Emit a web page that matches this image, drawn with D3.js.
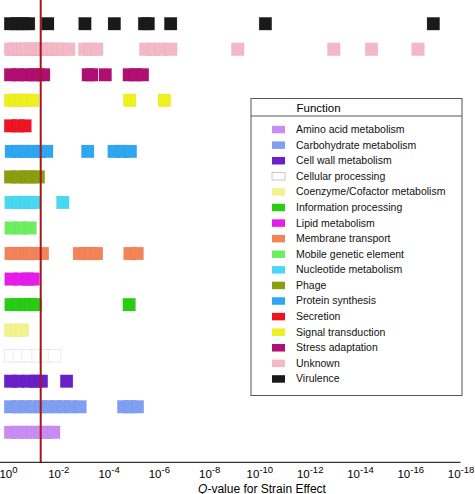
<!DOCTYPE html>
<html><head><meta charset="utf-8">
<script src="https://cdn.jsdelivr.net/npm/d3@7"></script>
<style>
body{margin:0;background:#fff}
svg{display:block;font-family:Arial,"Liberation Sans",sans-serif}
</style>
</head><body>
<svg id="chart" width="475" height="494"></svg>
<script>
// Functional categories (legend order, alphabetical)
const categories = [
  "Amino acid metabolism","Carbohydrate metabolism","Cell wall metabolism","Cellular processing",
  "Coenzyme/Cofactor metabolism","Information processing","Lipid metabolism","Membrane transport",
  "Mobile genetic element","Nucleotide metabolism","Phage","Protein synthesis","Secretion",
  "Signal transduction","Stress adaptation","Unknown","Virulence"
];
const categoryColors = [
  "#c98cf2","#7f9ff2","#6a20c9","#ffffff",
  "#f3f38e","#28cc14","#e41de8","#f2845a",
  "#6cef5e","#48d8f2","#8a9e10","#2fa6f2","#ee1522",
  "#eef020","#b00e72","#f4b8c6","#1a1a1a"
];

// -log10(Q-value) for each gene, per category
const aminoAcid     = [0.1,0.4,0.7,1.0,1.3,1.55,1.82];
const carbohydrate  = [0.1,0.4,0.7,1.0,1.3,1.6,1.9,2.2,2.5,2.87,4.6,4.85,5.15];
const cellWall      = [0.1,0.4,0.8,1.1,1.33,2.33];
const cellular      = [0.1,0.45,0.8,1.2,1.5,1.85];
const coenzyme      = [0.1,0.35,0.57];
const information   = [0.12,0.4,0.7,0.9,1.09,4.82];
const lipid         = [0.12,0.5,0.8,1.0];
const membrane      = [0.12,0.25,0.5,0.75,0.85,1.0,1.37,2.84,3.1,3.3,3.52,4.85,5.14];
const mobile        = [0.12,0.5,0.88];
const nucleotide    = [0.12,0.4,0.7,0.9,1.04,2.18];
const phage         = [0.1,0.4,0.7,0.92,1.21];
const protein       = [0.13,0.4,0.7,1.0,1.25,1.54,3.17,4.22,4.55,4.87];
const secretion     = [0.1,0.4,0.68];
const signal        = [0.1,0.3,0.5,0.7,0.98,4.84,6.22];
const stress        = [0.1,0.4,0.7,1.0,1.2,1.42,3.19,3.33,3.87,4.82,5.08,5.35];
const unknown       = [0.1,0.2,0.3,0.45,0.6,0.75,0.9,1.0,1.1,1.2,1.35,1.5,1.65,1.8,2.0,2.2,2.42,3.05,3.3,3.53,5.48,5.8,6.1,6.48,9.14,12.96,14.46,16.31];
const virulence     = [0.1,0.35,0.6,0.82,1.58,3.06,4.23,5.43,5.58,6.47,10.24,16.92];

const seriesValues = [aminoAcid,carbohydrate,cellWall,cellular,coenzyme,information,lipid,membrane,
  mobile,nucleotide,phage,protein,secretion,signal,stress,unknown,virulence];

const tickExponents = [0,2,4,6,8,10,12,14,16,18];
const qThreshold = 0.05;
const axisTitle = "-value for Strain Effect";

const svg = d3.select("#chart");
const axisY = 462.3;

const x = d3.scaleLinear().domain([0,18]).range([8,460.5]);
const rowOrder = categories.slice().reverse(); // Virulence on top
const y = d3.scalePoint().domain(rowOrder).range([23.7,432.3]);
const color = d3.scaleOrdinal().domain(categories).range(categoryColors);

const sq = x(0.5)-x(0);   // square width
const sh = 12.7;          // square height

const rows = categories.map((c,i)=>({cat:c, vals:seriesValues[i]}));

const g = svg.append("g");
rows.forEach(r=>{
  const col = color(r.cat);
  const isWhite = col.toLowerCase()==="#ffffff";
  g.selectAll(null).data(r.vals).enter().append("rect")
    .attr("x", d=>x(d)-sq/2)
    .attr("y", y(r.cat)-sh/2)
    .attr("width", sq)
    .attr("height", sh)
    .attr("fill", col)
    .attr("stroke", isWhite ? "#e2e2e2" : d3.color(col).darker(0.4))
    .attr("stroke-opacity", isWhite ? 1 : 0.3)
    .attr("stroke-width", isWhite ? 0.7 : 0.6);
});

// significance line
svg.append("line")
  .attr("x1", x(-Math.log10(qThreshold))).attr("x2", x(-Math.log10(qThreshold)))
  .attr("y1", 0).attr("y2", axisY)
  .attr("stroke", "#a3161a").attr("stroke-width", 2);

// x axis
const axis = d3.axisBottom(x).tickValues(tickExponents).tickSize(0).tickFormat("");
const ax = svg.append("g").attr("transform", `translate(0,${axisY})`).call(axis);
ax.select(".domain").remove();
ax.append("line").attr("x1",0).attr("x2",x.range()[1]).attr("y1",0).attr("y2",0)
  .attr("stroke","#000").attr("stroke-width",1);
ax.selectAll(".tick").each(function(d){
  const t = d3.select(this).append("text")
    .attr("y", 16.2).attr("text-anchor","middle").attr("fill","#000")
    .style("font-size","11.5px");
  t.append("tspan").text("10");
  t.append("tspan").attr("dy",-5.5).style("font-size","9.5px").text(d===0 ? "0" : "-"+d);
});

// axis title
const tt = svg.append("text").attr("x",262).attr("y",492.5).attr("text-anchor","middle")
  .style("font-size","12px").attr("fill","#000");
tt.append("tspan").style("font-style","italic").text("Q");
tt.append("tspan").text(axisTitle);

// legend
const lg = svg.append("g");
lg.append("rect").attr("x",251).attr("y",98.5).attr("width",211).attr("height",297)
  .attr("fill","#fff").attr("stroke","#555").attr("stroke-width",1);
lg.append("line").attr("x1",251).attr("x2",462).attr("y1",116).attr("y2",116)
  .attr("stroke","#555").attr("stroke-width",1);
lg.append("text").attr("x",296.5).attr("y",111.5).style("font-size","11.5px").text("Function");
const ly = d3.scalePoint().domain(categories).range([129.3,378.7]);
const items = lg.selectAll(".li").data(categories).enter().append("g").attr("class","li")
  .attr("transform", d=>`translate(0,${ly(d)})`);
items.append("rect").attr("x",272).attr("y",-3.5).attr("width",13).attr("height",7.5)
  .attr("fill", d=>color(d))
  .attr("stroke", d=>color(d).toLowerCase()==="#ffffff" ? "#bbb" : "none")
  .attr("stroke-width",0.8);
items.append("text").attr("x",296).attr("y",0).attr("dy","0.35em")
  .style("font-size","10.5px").attr("fill","#111").text(d=>d);
</script>
</body></html>
